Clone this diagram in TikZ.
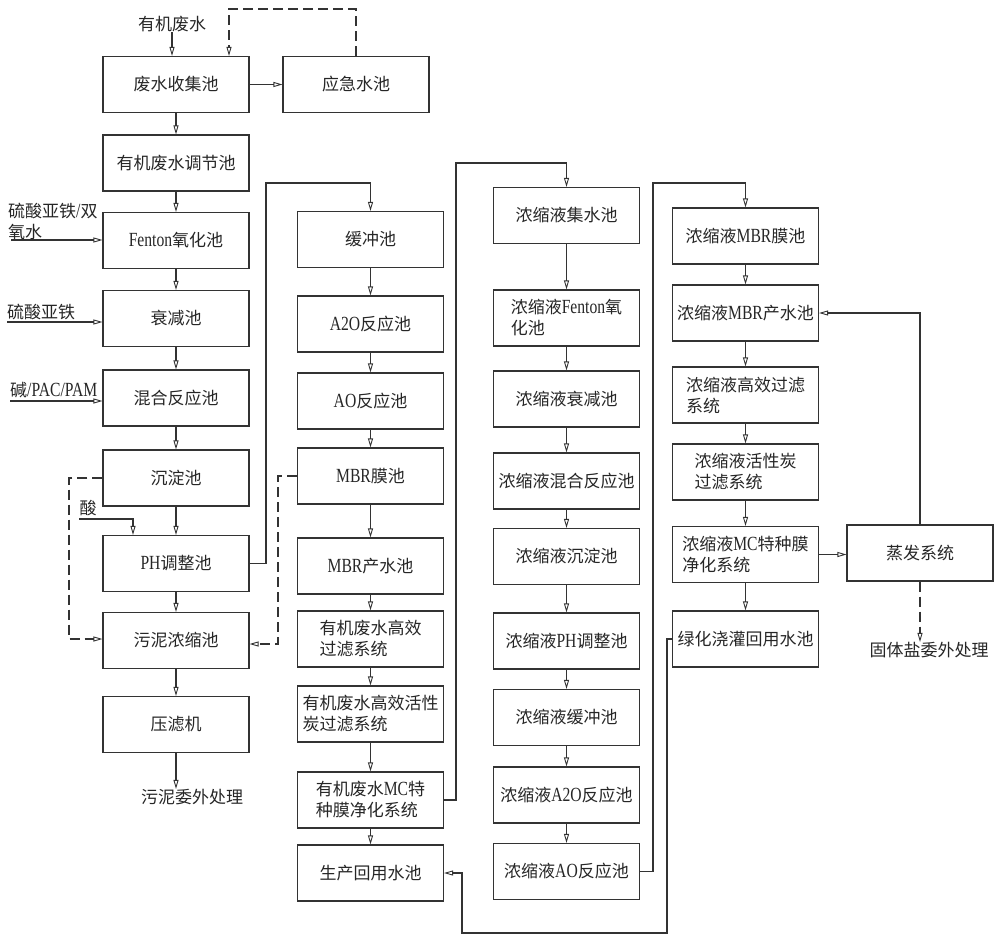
\documentclass[tikz,border=0pt]{standalone}
\usepackage{fontspec}
\setmainfont{Noto Sans CJK SC}
\newfontfamily\lat[FakeStretch=0.78,Scale=1.18]{Liberation Serif}
\usetikzlibrary{arrows.meta}
\newcommand\myfs{\fontsize{17}{21}\selectfont}
\tikzset{
 box/.style={draw=black!80, line width=1.1pt, minimum width=146pt, minimum height=56pt, inner sep=2pt, text=black!85, font=\myfs},
 lbl/.style={inner sep=0pt, text=black!85, font=\myfs},
 arr/.style={draw=black!80, line width=1.1pt, -{Triangle[open,length=9pt,width=5pt,line width=0.9pt]}},
 dsh/.style={dash pattern=on 10pt off 5pt}
}
\begin{document}
\begin{tikzpicture}[x=1pt,y=-1pt]
\useasboundingbox (0,0) rectangle (1000,941);
% column 1
\node[box] (c1a) at (176,84.5) {废水收集池};
\node[box] (emerg) at (356,84.5) {应急水池};
\node[box] (c1b) at (176,163) {有机废水调节池};
\node[box] (c1c) at (176,240.5) {{\lat Fenton}氧化池};
\node[box] (c1d) at (176,318.5) {衰减池};
\node[box] (c1e) at (176,398) {混合反应池};
\node[box] (c1f) at (176,478) {沉淀池};
\node[box] (c1g) at (176,563.5) {{\lat PH}调整池};
\node[box] (c1h) at (176,640.5) {污泥浓缩池};
\node[box] (c1i) at (176,724.5) {压滤机};
\node[lbl] (sludge) at (192,797) {污泥委外处理};
\node[lbl] (src) at (172,24) {有机废水};
\node[lbl,align=left,anchor=west] (chem1) at (8,222) {硫酸亚铁{\lat /}双\\氧水};
\node[lbl,anchor=west] (chem2) at (7,312) {硫酸亚铁};
\node[lbl,anchor=west] (chem3) at (10,390) {碱{\lat /PAC/PAM}};
\node[lbl] (acid) at (88,508) {酸};
% column 2
\node[box] (c2a) at (370.5,239.5) {缓冲池};
\node[box] (c2b) at (370.5,324) {{\lat A2O}反应池};
\node[box] (c2c) at (370.5,401) {{\lat AO}反应池};
\node[box] (c2d) at (370.5,476) {{\lat MBR}膜池};
\node[box] (c2e) at (370.5,566) {{\lat MBR}产水池};
\node[box,align=left] (c2f) at (370.5,639) {有机废水高效\\过滤系统};
\node[box,align=left] (c2g) at (370.5,714) {有机废水高效活性\\炭过滤系统};
\node[box,align=left] (c2h) at (370.5,800) {有机废水{\lat MC}特\\种膜净化系统};
\node[box] (c2i) at (370.5,873) {生产回用水池};
% column 3
\node[box] (c3a) at (566.5,215.5) {浓缩液集水池};
\node[box,align=left] (c3b) at (566.5,318) {浓缩液{\lat Fenton}氧\\化池};
\node[box] (c3c) at (566.5,399) {浓缩液衰减池};
\node[box] (c3d) at (566.5,481) {浓缩液混合反应池};
\node[box] (c3e) at (566.5,556.5) {浓缩液沉淀池};
\node[box] (c3f) at (566.5,641) {浓缩液{\lat PH}调整池};
\node[box] (c3g) at (566.5,717.5) {浓缩液缓冲池};
\node[box] (c3h) at (566.5,795) {浓缩液{\lat A2O}反应池};
\node[box] (c3i) at (566.5,871.5) {浓缩液{\lat AO}反应池};
% column 4
\node[box] (c4a) at (745.5,236) {浓缩液{\lat MBR}膜池};
\node[box] (c4b) at (745.5,313) {浓缩液{\lat MBR}产水池};
\node[box,align=left] (c4c) at (745.5,395) {浓缩液高效过滤\\系统};
\node[box,align=left] (c4d) at (745.5,472) {浓缩液活性炭\\过滤系统};
\node[box,align=left] (c4e) at (745.5,554.5) {浓缩液{\lat MC}特种膜\\净化系统};
\node[box] (c4f) at (745.5,639) {绿化浇灌回用水池};
\node[box] (evap) at (920,553) {蒸发系统};
\node[lbl] (salt) at (929,650) {固体盐委外处理};
% coordinates
\coordinate (d1) at (229,9);
\coordinate (d2) at (69,639);
\coordinate (d3) at (278,644);
\coordinate (f1) at (11,240);
\coordinate (f2) at (7,322);
\coordinate (f3) at (10,401);
\coordinate (a1) at (79,519);
\coordinate (a2) at (133,519);
\coordinate (p1) at (266,183);
\coordinate (p2) at (456,163);
\coordinate (p3) at (653,183);
\coordinate (p4) at (667,933);
\coordinate (p5) at (462,873);
% connectors column 1
\draw[arr] (src.south) -- (src.south |- c1a.north);
\draw[arr] (c1a) -- (emerg);
\draw[arr,dsh] (emerg.north) |- (d1) -- (d1 |- c1a.north);
\draw[arr] (c1a) -- (c1b);
\draw[arr] (c1b) -- (c1c);
\draw[arr] (c1c) -- (c1d);
\draw[arr] (c1d) -- (c1e);
\draw[arr] (c1e) -- (c1f);
\draw[arr] (c1f) -- (c1g);
\draw[arr] (c1g) -- (c1h);
\draw[arr] (c1h) -- (c1i);
\draw[arr] (c1i.south) -- (c1i.south |- sludge.north);
\draw[arr] (f1) -- (f1 -| c1c.west);
\draw[arr] (f2) -- (f2 -| c1d.west);
\draw[arr] (f3) -- (f3 -| c1e.west);
\draw[arr] (a1) -- (a2) -- (a2 |- c1g.north);
\draw[arr,dsh] (c1f.west) -| (d2) -- (d2 -| c1h.west);
\draw[arr,dsh] (c2d.west) -| (d3) -- (d3 -| c1h.east);
\draw[arr] (c1g.east) -| (p1) -| (c2a.north);
% column 2
\draw[arr] (c2a) -- (c2b);
\draw[arr] (c2b) -- (c2c);
\draw[arr] (c2c) -- (c2d);
\draw[arr] (c2d) -- (c2e);
\draw[arr] (c2e) -- (c2f);
\draw[arr] (c2f) -- (c2g);
\draw[arr] (c2g) -- (c2h);
\draw[arr] (c2h) -- (c2i);
\draw[arr] (c2h.east) -| (p2) -| (c3a.north);
% column 3
\draw[arr] (c3a) -- (c3b);
\draw[arr] (c3b) -- (c3c);
\draw[arr] (c3c) -- (c3d);
\draw[arr] (c3d) -- (c3e);
\draw[arr] (c3e) -- (c3f);
\draw[arr] (c3f) -- (c3g);
\draw[arr] (c3g) -- (c3h);
\draw[arr] (c3h) -- (c3i);
\draw[arr] (c3i.east) -| (p3) -| (c4a.north);
% column 4
\draw[arr] (c4a) -- (c4b);
\draw[arr] (c4b) -- (c4c);
\draw[arr] (c4c) -- (c4d);
\draw[arr] (c4d) -- (c4e);
\draw[arr] (c4e) -- (c4f);
\draw[arr] (c4e.east) -- (c4e.east -| evap.west);
\draw[arr] (evap.north) |- (c4b.east);
\draw[arr,dsh] (evap.south) -- (evap.south |- salt.north);
\draw[arr] (c4f.west) -| (p4) -| (p5) -- (p5 -| c2i.east);
\end{tikzpicture}
\end{document}
